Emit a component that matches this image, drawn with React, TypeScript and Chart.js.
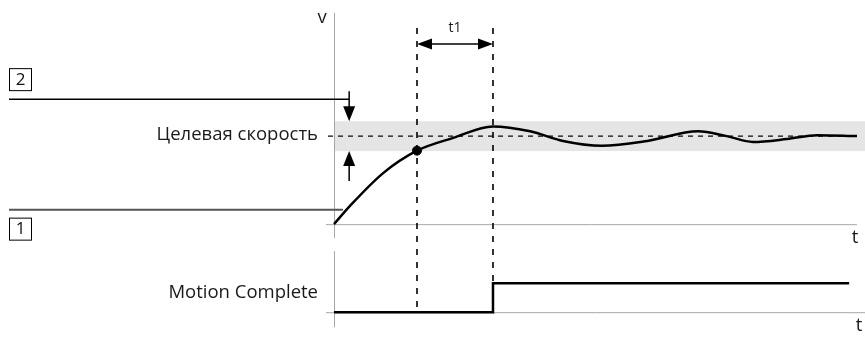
import React, { useEffect, useRef } from "react";
import { Chart, registerables } from "chart.js";

Chart.register(...registerables);

// ---- data (time in arbitrary units, velocity relative to target speed) ----
const riseTime = [0, 0.31, 0.94, 1.587, 2.28, 3.04, 3.75, 4.38, 5.12, 5.99, 6.96, 7.51, 8.01, 8.66, 9.24, 10];
const riseVelocity = [0, 0.21, 0.58, 0.835, 0.98, 1.11, 1.055, 0.945, 0.89, 0.945, 1.055, 1.0, 0.934, 0.967, 1.011, 1.0];
const signalTime = [0, 3.04, 9.85];
const signalLevel = [0, 1, 1];
const targetSpeed = 1;
const bandHalf = 0.17;
const level2 = 1.42;
const level1 = 0.165;
const level1End = 0.17;
const arrowT = 0.29;
const tEnter = 1.587;
const tComplete = 3.04;
const targetLabel = "Целевая скорость";
const signalLabel = "Motion Complete";
const intervalLabel = "t1";
const vAxisLabel = "v";
const tAxisLabel = "t";
const box1Label = "1";
const box2Label = "2";

const FONT = "'Open Sans', 'Noto Sans', sans-serif";

function arrowHead(ctx: CanvasRenderingContext2D, x: number, y: number, dir: "up" | "down" | "left" | "right", len: number, half: number) {
  ctx.beginPath();
  if (dir === "down") {
    ctx.moveTo(x, y); ctx.lineTo(x - half, y - len); ctx.lineTo(x + half, y - len);
  } else if (dir === "up") {
    ctx.moveTo(x, y); ctx.lineTo(x - half, y + len); ctx.lineTo(x + half, y + len);
  } else if (dir === "left") {
    ctx.moveTo(x, y); ctx.lineTo(x + len, y - half); ctx.lineTo(x + len, y + half);
  } else {
    ctx.moveTo(x, y); ctx.lineTo(x - len, y - half); ctx.lineTo(x - len, y + half);
  }
  ctx.closePath();
  ctx.fill();
}

const diagramPlugin = {
  id: "diagram",
  beforeDatasetsDraw(chart: any) {
    const ctx: CanvasRenderingContext2D = chart.ctx;
    const xs = chart.scales.x;
    const ys = chart.scales.y;
    const ys2 = chart.scales.y2;
    const x0 = xs.getPixelForValue(0);
    const xEnd = xs.getPixelForValue(10);
    const yZero = ys.getPixelForValue(0);
    const y2Zero = ys2.getPixelForValue(0);
    const y2One = ys2.getPixelForValue(1);
    ctx.save();

    // tolerance band
    const bandTop = ys.getPixelForValue(targetSpeed + bandHalf);
    const bandBot = ys.getPixelForValue(targetSpeed - bandHalf);
    ctx.fillStyle = "#e5e5e5";
    ctx.fillRect(x0, bandTop, chart.width - x0, bandBot - bandTop);

    // axes
    ctx.strokeStyle = "#a6a6a6";
    ctx.lineWidth = 1;
    ctx.beginPath();
    ctx.moveTo(x0 + 0.5, 13);
    ctx.lineTo(x0 + 0.5, yZero + 14);
    ctx.moveTo(x0 - 8, yZero + 0.5);
    ctx.lineTo(xEnd, yZero + 0.5);
    ctx.moveTo(x0 + 0.5, y2One - 32);
    ctx.lineTo(x0 + 0.5, y2Zero + 15);
    ctx.moveTo(x0 - 8, y2Zero + 0.5);
    ctx.lineTo(chart.width, y2Zero + 0.5);
    ctx.stroke();

    // target speed dashed line
    const yT = ys.getPixelForValue(targetSpeed);
    ctx.strokeStyle = "#000";
    ctx.lineWidth = 1.2;
    ctx.setLineDash([5, 5]);
    ctx.beginPath();
    ctx.moveTo(x0 - 6, yT);
    ctx.lineTo(xEnd, yT);
    ctx.stroke();

    // vertical dashed markers
    ctx.setLineDash([6, 7]);
    ctx.lineWidth = 1.6;
    [tEnter, tComplete].forEach((t) => {
      const px = xs.getPixelForValue(t);
      ctx.beginPath();
      ctx.moveTo(px, 28);
      ctx.lineTo(px, y2Zero);
      ctx.stroke();
    });
    ctx.setLineDash([]);

    // t1 interval arrow
    const xa = xs.getPixelForValue(tEnter);
    const xb = xs.getPixelForValue(tComplete);
    const yArr = 44;
    ctx.fillStyle = "#000";
    ctx.lineWidth = 1.5;
    ctx.beginPath();
    ctx.moveTo(xa + 10, yArr);
    ctx.lineTo(xb - 10, yArr);
    ctx.stroke();
    arrowHead(ctx, xa, yArr, "left", 15, 5.5);
    arrowHead(ctx, xb, yArr, "right", 15, 5.5);

    // reference levels
    const yL2 = ys.getPixelForValue(level2);
    const yL1 = ys.getPixelForValue(level1);
    const xArrow = xs.getPixelForValue(arrowT);
    ctx.strokeStyle = "#000";
    ctx.lineWidth = 1.5;
    ctx.beginPath();
    ctx.moveTo(9, yL2);
    ctx.lineTo(xArrow, yL2);
    ctx.stroke();
    ctx.strokeStyle = "#555";
    ctx.lineWidth = 2;
    ctx.beginPath();
    ctx.moveTo(9, yL1);
    ctx.lineTo(xs.getPixelForValue(level1End), yL1);
    ctx.stroke();

    // tolerance arrows
    ctx.strokeStyle = "#000";
    ctx.lineWidth = 1.5;
    ctx.beginPath();
    ctx.moveTo(xArrow, yL2 - 8);
    ctx.lineTo(xArrow, bandTop - 10);
    ctx.moveTo(xArrow, bandBot + 10);
    ctx.lineTo(xArrow, bandBot + 30);
    ctx.stroke();
    arrowHead(ctx, xArrow, bandTop, "down", 15, 6);
    arrowHead(ctx, xArrow, bandBot, "up", 15, 6);

    // numbered boxes
    ctx.strokeStyle = "#000";
    ctx.lineWidth = 1;
    ctx.fillStyle = "#111";
    ctx.font = `17px ${FONT}`;
    ctx.textAlign = "center";
    ctx.textBaseline = "middle";
    const drawBox = (top: number, label: string) => {
      ctx.strokeRect(9.5, top + 0.5, 22, 22);
      ctx.fillText(label, 20.5, top + 12);
    };
    drawBox(yL2 - 31, box2Label);
    drawBox(yL1 + 8, box1Label);

    // labels
    ctx.fillStyle = "#1a1a1a";
    ctx.font = `18.5px ${FONT}`;
    ctx.textAlign = "right";
    ctx.fillText(targetLabel, x0 - 16, yT - 1);
    ctx.fillText(signalLabel, x0 - 16, (y2Zero + y2One) / 2 - 5);
    ctx.textAlign = "center";
    ctx.fillText(vAxisLabel, x0 - 12, 18);
    ctx.fillText(tAxisLabel, xEnd - 2, yZero + 14);
    ctx.fillText(tAxisLabel, xEnd + 2, y2Zero + 14);
    ctx.font = `14px ${FONT}`;
    ctx.fillText(intervalLabel, (xa + xb) / 2, 28);

    ctx.restore();
  },
};

export default function App() {
  const ref = useRef<HTMLCanvasElement | null>(null);
  useEffect(() => {
    if (!ref.current) return;
    const pxPerV = 91;
    const pxPerS = 30;
    const H = 339;
    const chart = new Chart(ref.current, {
      type: "line",
      data: {
        datasets: [
          {
            data: riseTime.map((t, i) => ({ x: t, y: riseVelocity[i] })),
            borderColor: "#000",
            borderWidth: 2.5,
            pointRadius: 0,
            cubicInterpolationMode: "monotone",
            yAxisID: "y",
            clip: false as any,
          },
          {
            data: [{ x: tEnter, y: riseVelocity[riseTime.indexOf(tEnter)] }],
            borderColor: "#000",
            backgroundColor: "#000",
            pointRadius: 4.5,
            showLine: false,
            yAxisID: "y",
            clip: false as any,
          },
          {
            data: signalTime.map((t, i) => ({ x: t, y: signalLevel[i] })),
            borderColor: "#000",
            borderWidth: 2.5,
            pointRadius: 0,
            stepped: true,
            yAxisID: "y2",
            clip: false as any,
          },
        ],
      },
      options: {
        animation: false,
        responsive: false,
        layout: { padding: { left: 334, right: 8, top: 0, bottom: 0 } },
        plugins: { legend: { display: false }, tooltip: { enabled: false } },
        events: [],
        scales: {
          x: { type: "linear", min: 0, max: 10, display: false },
          y: { type: "linear", min: -(H - 226) / pxPerV, max: 226 / pxPerV, display: false },
          y2: { type: "linear", min: -(H - 317) / pxPerS, max: 317 / pxPerS, display: false },
        },
      },
      plugins: [diagramPlugin],
    });
    return () => chart.destroy();
  }, []);
  return (
    <div style={{ position: "absolute", left: 0, top: 0, width: 865, height: 339, background: "#fff" }}>
      <canvas ref={ref} width={865} height={339} />
    </div>
  );
}
